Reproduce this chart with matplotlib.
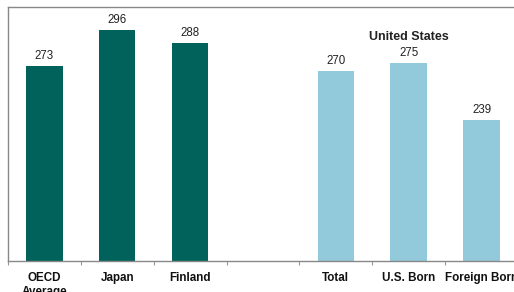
import matplotlib
matplotlib.use("Agg")
import matplotlib.pyplot as plt
import numpy as np

intl_labels = ["OECD\nAverage", "Japan", "Finland"]
intl_values = [273, 296, 288]
us_labels = ["Total", "U.S. Born", "Foreign Born"]
us_values = [270, 275, 239]
group_title = "United States"

plt.rcParams['font.family'] = ['Liberation Sans', 'DejaVu Sans']

fig = plt.figure(figsize=(5.14, 2.92), dpi=100)
ax = fig.add_axes([8/514, 31/292, 510/514, 254/292])

x_intl = np.arange(len(intl_values))
x_us = np.arange(len(us_values)) + len(intl_values) + 1

ax.bar(x_intl, intl_values, width=0.5, color="#00625A")
ax.bar(x_us, us_values, width=0.5, color="#93CADB")

for x, v in zip(list(x_intl) + list(x_us), intl_values + us_values):
    ax.text(x, v + 2.5, str(v), ha="center", va="bottom", fontsize=8.3, color="#222222")

ax.text(x_us[1], 287.5, group_title, ha="center", va="bottom", fontsize=9,
        fontweight="bold", color="#222222")

ax.set_xlim(-0.5, 6.5)
ax.set_ylim(150, 310.5)
ax.set_yticks([])
ax.set_xticks(list(x_intl) + list(x_us))
ax.set_xticklabels(intl_labels + us_labels, fontsize=8.4, fontweight="bold", color="#111111")
ax.tick_params(axis="x", which="major", length=0, pad=8)
ax.set_xticks(np.arange(-0.5, 7.0, 1.0), minor=True)
ax.tick_params(axis="x", which="minor", length=3, color="#999999", width=0.8)

for s in ax.spines.values():
    s.set_color("#888888")
    s.set_linewidth(1.0)

fig.savefig("out.png", dpi=100)
